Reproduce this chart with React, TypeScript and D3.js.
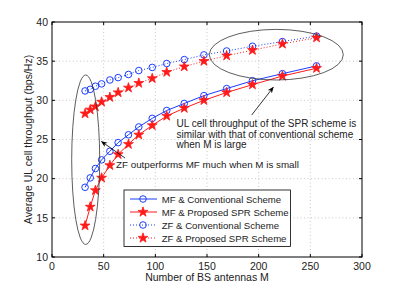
import { useEffect } from 'react'
import * as d3 from 'd3'

// number of BS antennas
const antennas = [32, 37, 42, 48, 56, 64, 74, 84, 97, 111, 128, 147, 169, 194, 223, 256]

const mfConventional = [18.9, 20.1, 21.3, 22.4, 23.5, 24.6, 25.6, 26.6, 27.7, 28.7, 29.6, 30.6, 31.5, 32.5, 33.4, 34.4]
const mfProposed = [14.0, 16.4, 18.5, 20.1, 21.7, 23.1, 24.4, 25.6, 26.8, 28.0, 29.0, 30.0, 31.0, 32.0, 33.1, 34.1]
const zfConventional = [31.2, 31.4, 31.8, 32.1, 32.6, 32.9, 33.3, 33.8, 34.2, 34.7, 35.2, 35.8, 36.3, 36.9, 37.5, 38.2]
const zfProposed = [28.3, 28.8, 29.2, 29.8, 30.4, 31.0, 31.6, 32.2, 32.8, 33.6, 34.3, 35.0, 35.7, 36.4, 37.2, 38.0]

const xTicks = [0, 50, 100, 150, 200, 250, 300]
const yTicks = [10, 15, 20, 25, 30, 35, 40]

const seriesNames = [
  'MF & Conventional Scheme',
  'MF & Proposed SPR Scheme',
  'ZF & Conventional Scheme',
  'ZF & Proposed SPR Scheme',
]

const BLUE = '#1a3cff'
const RED = '#ff1a1a'

interface Series {
  name: string
  values: number[]
  color: string
  marker: 'circle' | 'star'
  dotted: boolean
}

const series: Series[] = [
  { name: seriesNames[0], values: mfConventional, color: BLUE, marker: 'circle', dotted: false },
  { name: seriesNames[1], values: mfProposed, color: RED, marker: 'star', dotted: false },
  { name: seriesNames[2], values: zfConventional, color: BLUE, marker: 'circle', dotted: true },
  { name: seriesNames[3], values: zfProposed, color: RED, marker: 'star', dotted: true },
]

const font = 'Liberation Sans, Arial, sans-serif'
const starPath = d3.symbol(d3.symbolStar, 30)() as string

function Marker({ s, x, y }: { s: Series; x: number; y: number }) {
  if (s.marker === 'circle') {
    return <circle cx={x} cy={y} r={3.3} fill="none" stroke={s.color} strokeWidth={1} />
  }
  return <path d={starPath} transform={`translate(${x},${y})`} fill={s.color} stroke={s.color} strokeWidth={0.8} />
}

export default function App() {
  useEffect(() => {
    document.body.style.margin = '0'
  }, [])

  const width = 399
  const height = 290
  const margin = { left: 52, right: 37, top: 22, bottom: 33 }

  const x = d3.scaleLinear().domain([0, 300]).range([margin.left, width - margin.right])
  const y = d3.scaleLinear().domain([10, 40]).range([height - margin.bottom, margin.top])

  const line = d3.line<number>()
    .x((_, i) => x(antennas[i]))
    .y(d => y(d))

  const [x0, x1] = x.range()
  const [y0, y1] = y.range()

  const legendX = 124
  const legendY = 190
  const legendRows = [199, 212, 225, 238]

  return (
    <svg width={width} height={height} style={{ display: 'block', background: '#fff' }} fontFamily={font}>
      <rect x={x0} y={y1} width={x1 - x0} height={y0 - y1} fill="#fff" />

      {/* grid */}
      {xTicks.slice(1, -1).map(t => (
        <line key={'gx' + t} x1={x(t)} x2={x(t)} y1={y0} y2={y1} stroke="#bbb" strokeWidth={0.8} strokeDasharray="1,2.5" />
      ))}
      {yTicks.slice(1, -1).map(t => (
        <line key={'gy' + t} x1={x0} x2={x1} y1={y(t)} y2={y(t)} stroke="#bbb" strokeWidth={0.8} strokeDasharray="1,2.5" />
      ))}

      {/* ticks */}
      {xTicks.map(t => (
        <g key={'tx' + t}>
          <line x1={x(t)} x2={x(t)} y1={y0} y2={y0 - 3} stroke="#000" />
          <line x1={x(t)} x2={x(t)} y1={y1} y2={y1 + 3} stroke="#000" />
          <text x={x(t)} y={y0 + 13} fontSize={10.5} textAnchor="middle" fill="#222">{t}</text>
        </g>
      ))}
      {yTicks.map(t => (
        <g key={'ty' + t}>
          <line x1={x0} x2={x0 + 3} y1={y(t)} y2={y(t)} stroke="#000" />
          <line x1={x1} x2={x1 - 3} y1={y(t)} y2={y(t)} stroke="#000" />
          <text x={x0 - 4} y={y(t) + 3.8} fontSize={10.5} textAnchor="end" fill="#222">{t}</text>
        </g>
      ))}

      {/* series */}
      {series.map(s => (
        <g key={s.name}>
          <path
            d={line(s.values) as string}
            fill="none"
            stroke={s.color}
            strokeWidth={1}
            strokeDasharray={s.dotted ? '1,2' : undefined}
          />
          {s.values.map((v, i) => (
            <Marker key={i} s={s} x={x(antennas[i])} y={y(v)} />
          ))}
        </g>
      ))}

      <rect x={x0} y={y1} width={x1 - x0} height={y0 - y1} fill="none" stroke="#000" strokeWidth={1} />

      {/* annotations */}
      <ellipse cx={85.7} cy={159.7} rx={14} ry={84.7} fill="none" stroke="#333" strokeWidth={0.8} />
      <ellipse cx={276.3} cy={54.7} rx={67} ry={25.3} fill="none" stroke="#333" strokeWidth={0.8} />

      <defs>
        <marker id="arrow" viewBox="0 0 10 10" refX={9} refY={5} markerWidth={8} markerHeight={8} orient="auto-start-reverse">
          <path d="M0,1 L10,5 L0,9 L3,5 Z" fill="#000" />
        </marker>
      </defs>
      <line x1={125} y1={158} x2={101.5} y2={141.5} stroke="#000" strokeWidth={0.8} markerEnd="url(#arrow)" />
      <line x1={251.7} y1={115} x2={273.3} y2={87.3} stroke="#000" strokeWidth={0.8} markerEnd="url(#arrow)" />

      <text x={116} y={168} fontSize={9.8} fill="#222">ZF outperforms MF much when M is small</text>
      <text fontSize={10} fill="#222">
        <tspan x={176.5} y={127}>UL cell throughput of the SPR scheme is</tspan>
        <tspan x={176.5} y={137.5}>similar with that of conventional scheme</tspan>
        <tspan x={176.5} y={148}>when M is large</tspan>
      </text>

      {/* legend */}
      <rect x={legendX} y={legendY} width={166.5} height={56.5} fill="#fff" stroke="#000" strokeWidth={0.8} />
      {series.map((s, i) => (
        <g key={'lg' + i}>
          <line
            x1={130}
            x2={157}
            y1={legendRows[i]}
            y2={legendRows[i]}
            stroke={s.color}
            strokeWidth={1}
            strokeDasharray={s.dotted ? '1,2' : undefined}
          />
          <Marker s={s} x={143} y={legendRows[i]} />
          <text x={161.7} y={legendRows[i] + 3.5} fontSize={9.6} fill="#222">{s.name}</text>
        </g>
      ))}

      {/* axis labels */}
      <text x={(x0 + x1) / 2} y={281} fontSize={10.5} textAnchor="middle" fill="#222">Number of BS antennas M</text>
      <text transform={`translate(32,${(y0 + y1) / 2}) rotate(-90)`} fontSize={10.5} textAnchor="middle" fill="#222">
        Average UL cell throughput (bps/Hz)
      </text>
    </svg>
  )
}
